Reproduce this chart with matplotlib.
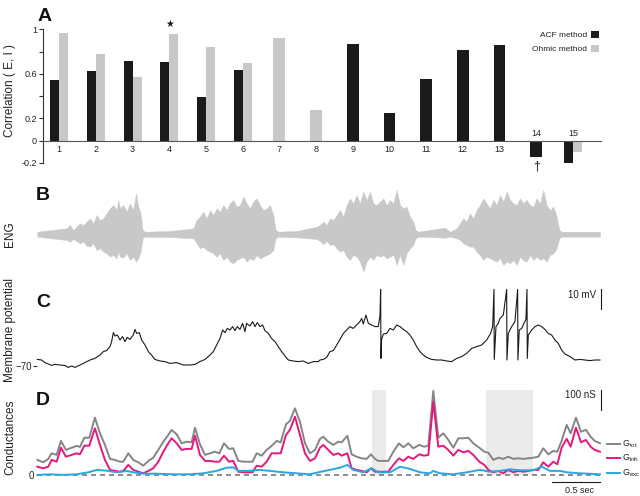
import numpy as np
import matplotlib
matplotlib.use("Agg")
import matplotlib.pyplot as plt
from matplotlib.patches import Patch

plt.rcParams['font.family'] = ['Liberation Sans', 'DejaVu Sans']
plt.rcParams['mathtext.fontset'] = 'custom'
plt.rcParams['mathtext.rm'] = 'Liberation Sans'

# ---------------- panel A: correlation per cell ----------------
categories = [str(i) for i in range(1, 16)]
acf_corr = [0.545, 0.623, 0.716, 0.707, 0.392, 0.635, np.nan, np.nan,
            0.865, 0.249, 0.554, 0.811, 0.859, -0.144, -0.204]
ohmic_corr = [0.964, 0.778, 0.572, 0.958, 0.841, 0.700, 0.919, 0.275,
              np.nan, np.nan, np.nan, np.nan, np.nan, np.nan, -0.105]
star_cat = 4      # marked with a star
dagger_cat = 14   # marked with a dagger

# ---------------- panel B: ENG envelope (a.u.) ----------------
t_eng = [0.000, 0.307, 0.342, 0.377, 0.412, 0.447, 0.482, 0.517, 0.552, 0.587,
         0.622, 0.657, 0.692, 0.727, 0.762, 0.797, 0.832, 0.849, 0.867, 0.901,
         0.936, 0.971, 1.006, 1.034, 1.059, 1.083, 1.104, 1.129, 1.391, 1.635,
         1.670, 1.705, 1.740, 1.775, 1.810, 1.845, 1.880, 1.915, 1.950, 1.985,
         2.020, 2.054, 2.089, 2.124, 2.159, 2.194, 2.229, 2.264, 2.299, 2.334,
         2.369, 2.404, 2.439, 2.474, 2.498, 2.526, 2.718, 2.928, 2.963, 2.998,
         3.033, 3.068, 3.103, 3.138, 3.173, 3.208, 3.243, 3.277, 3.312, 3.347,
         3.382, 3.417, 3.452, 3.487, 3.522, 3.557, 3.592, 3.627, 3.662, 3.697,
         3.732, 3.767, 3.802, 3.837, 3.871, 3.906, 3.941, 3.966, 3.994, 4.273,
         4.326, 4.396, 4.430, 4.465, 4.500, 4.535, 4.570, 4.605, 4.640, 4.675,
         4.710, 4.745, 4.780, 4.815, 4.850, 4.885, 4.920, 4.955, 4.990, 5.025,
         5.059, 5.094, 5.129, 5.164, 5.199, 5.234, 5.269, 5.304, 5.339, 5.374,
         5.409, 5.444, 5.472, 5.496, 5.898]
eng_top = [7, 17, 27, 12, 22, 32, 27, 37, 47, 32,
           57, 42, 47, 62, 77, 87, 72, 102, 77, 87,
           67, 92, 72, 122, 82, 62, 12, 7, 9, 17,
           42, 52, 67, 47, 72, 57, 77, 67, 87, 72,
           92, 102, 82, 87, 112, 92, 77, 97, 107, 87,
           72, 77, 87, 57, 12, 7, 9, 22, 27, 37,
           27, 47, 42, 57, 72, 52, 87, 107, 92, 117,
           92, 127, 102, 127, 92, 87, 97, 107, 87, 102,
           92, 132, 87, 77, 82, 52, 37, 12, 7, 19,
           7, 17, 32, 47, 37, 62, 47, 72, 87, 107,
           92, 77, 102, 87, 117, 97, 127, 102, 92, 87,
           107, 92, 102, 87, 82, 107, 92, 132, 87, 72,
           82, 52, 12, 7, 7]
eng_bot = [-8, -18, -23, -15, -21, -28, -23, -35, -38, -28,
           -48, -43, -53, -58, -68, -63, -73, -53, -68, -71,
           -58, -78, -68, -83, -73, -53, -13, -8, -9, -13,
           -28, -43, -38, -48, -53, -58, -68, -58, -78, -68,
           -83, -88, -78, -73, -68, -83, -73, -78, -63, -73,
           -68, -63, -58, -48, -13, -8, -10, -15, -21, -31,
           -21, -33, -31, -43, -53, -48, -68, -78, -63, -68,
           -83, -113, -83, -68, -78, -63, -68, -63, -73, -68,
           -63, -93, -63, -93, -58, -43, -33, -13, -8, -11,
           -8, -13, -18, -28, -33, -38, -38, -53, -63, -78,
           -68, -73, -78, -83, -73, -93, -83, -88, -78, -93,
           -68, -78, -83, -63, -78, -68, -78, -73, -83, -63,
           -58, -43, -13, -8, -8]

# ---------------- panel C: membrane potential (mV) ----------------
t_vm = [0.000, 0.045, 0.080, 0.115, 0.150, 0.185, 0.238, 0.290, 0.325, 0.360,
        0.395, 0.447, 0.500, 0.552, 0.604, 0.657, 0.692, 0.727, 0.762, 0.779,
        0.797, 0.814, 0.839, 0.867, 0.894, 0.919, 0.943, 0.971, 1.006, 1.024,
        1.041, 1.069, 1.094, 1.129, 1.164, 1.198, 1.233, 1.286, 1.338, 1.391,
        1.461, 1.530, 1.600, 1.653, 1.705, 1.758, 1.810, 1.845, 1.880, 1.915,
        1.943, 1.967, 1.992, 2.020, 2.047, 2.072, 2.096, 2.124, 2.152, 2.177,
        2.194, 2.229, 2.257, 2.282, 2.306, 2.334, 2.362, 2.386, 2.421, 2.456,
        2.491, 2.526, 2.561, 2.596, 2.631, 2.683, 2.736, 2.788, 2.841, 2.893,
        2.946,
        2.963, 2.998, 3.033, 3.068, 3.103, 3.138, 3.173, 3.208, 3.243, 3.277,
        3.312, 3.347, 3.382, 3.400, 3.417, 3.445, 3.470, 3.505, 3.539, 3.574,
        3.592, 3.599, 3.602, 3.609, 3.627, 3.662, 3.697, 3.732, 3.767, 3.802,
        3.837, 3.871, 3.906, 3.941, 3.976, 4.011, 4.046, 4.081, 4.133, 4.186,
        4.238, 4.291, 4.343, 4.396, 4.448, 4.500, 4.553, 4.605, 4.658, 4.710,
        4.752, 4.773, 4.787, 4.790, 4.808, 4.832, 4.850, 4.885, 4.920, 4.923,
        4.937, 4.972, 5.007, 5.035, 5.038, 5.052, 5.077, 5.101, 5.122, 5.133,
        5.136, 5.147, 5.182, 5.217, 5.252, 5.287, 5.321, 5.356, 5.391, 5.426,
        5.461, 5.496, 5.531, 5.584, 5.636, 5.688, 5.741, 5.793, 5.846, 5.898]
vm = [-66.7, -67.0, -68.3, -69.0, -69.7, -69.2, -69.5, -69.7, -70.7, -70.0,
      -70.7, -69.5, -68.3, -67.0, -66.2, -64.5, -62.8, -62.3, -60.3, -57.8,
      -53.3, -55.0, -54.5, -57.0, -55.3, -57.8, -55.7, -56.7, -54.5, -51.7,
      -53.7, -53.3, -57.0, -59.5, -62.8, -64.5, -66.7, -67.5, -67.8, -68.7,
      -68.3, -69.5, -69.5, -69.2, -67.8, -66.7, -64.5, -62.8, -59.5, -56.2,
      -52.0, -53.3, -51.2, -52.0, -50.3, -52.3, -50.3, -51.7, -48.7, -52.8,
      -48.7, -50.0, -47.8, -50.3, -48.3, -50.3, -49.5, -52.3, -53.7, -56.2,
      -57.8, -60.3, -62.8, -65.0, -67.0, -67.5, -67.8, -67.5, -68.7, -67.8,
      -67.8,
      -67.0, -66.7, -65.7, -62.8, -62.3, -59.5, -56.7, -53.7, -52.0, -50.3,
      -51.2, -49.5, -47.8, -46.2, -49.0, -44.5, -48.7, -49.5, -50.3, -50.3,
      -45.0, -31.7, -66.2, -56.7, -54.0, -53.7, -51.2, -52.0, -49.5, -50.3,
      -51.7, -52.8, -54.5, -57.0, -60.3, -62.8, -64.5, -65.7, -66.7, -67.0,
      -67.0, -67.5, -67.8, -66.2, -65.3, -63.7, -61.2, -60.3, -59.5, -57.0,
      -53.7, -50.3, -31.7, -66.7, -50.3, -48.7, -46.2, -44.5, -31.7, -67.0,
      -53.7, -50.3, -47.8, -31.7, -67.0, -52.0, -51.2, -48.7, -46.7, -31.7,
      -66.2, -54.5, -52.0, -50.3, -49.5, -50.3, -51.7, -53.7, -54.5, -57.0,
      -58.7, -62.0, -64.0, -65.3, -67.0, -66.7, -67.0, -67.3, -67.0, -67.0]

# ---------------- panel D: conductances (nS) ----------------
t_cond = [0.000, 0.063, 0.115, 0.150, 0.203, 0.248, 0.300, 0.360, 0.412, 0.447,
          0.493, 0.545, 0.604, 0.657, 0.709, 0.762, 0.814, 0.867, 0.901, 0.954,
          1.006, 1.059, 1.111, 1.164, 1.216, 1.268, 1.321, 1.373, 1.408, 1.461,
          1.513, 1.565, 1.618, 1.653, 1.705, 1.758, 1.810, 1.862, 1.908, 1.957,
          2.009, 2.054, 2.107, 2.159, 2.212, 2.257, 2.299, 2.352, 2.404, 2.456,
          2.509, 2.551, 2.607, 2.648, 2.701, 2.753, 2.806, 2.858, 2.911, 2.963,
          2.998, 3.050, 3.103, 3.155, 3.190, 3.250, 3.295, 3.347, 3.400, 3.452,
          3.498, 3.539, 3.574, 3.627, 3.679, 3.732, 3.791, 3.837, 3.889, 3.941,
          4.004, 4.053, 4.099, 4.151, 4.203, 4.256, 4.308, 4.361, 4.413, 4.465,
          4.518, 4.570, 4.633, 4.686, 4.728, 4.780, 4.832, 4.885, 4.937, 4.990,
          5.042, 5.094, 5.147, 5.199, 5.252, 5.304, 5.356, 5.409, 5.451, 5.496,
          5.549, 5.591, 5.646, 5.699, 5.751, 5.800, 5.842, 5.898]
g_tot = [77, 65, 82, 110, 102, 172, 127, 138, 147, 142,
         188, 188, 288, 210, 152, 82, 77, 68, 68, 110,
         77, 65, 48, 72, 88, 127, 168, 202, 227, 205,
         160, 168, 165, 238, 155, 102, 110, 118, 110, 160,
         132, 135, 72, 68, 68, 68, 110, 98, 127, 147,
         172, 165, 255, 272, 335, 268, 160, 110, 127, 182,
         193, 168, 152, 168, 165, 197, 105, 93, 85, 82,
         105, 82, 72, 72, 72, 118, 160, 140, 160, 135,
         152, 143, 147, 422, 188, 210, 177, 138, 185, 185,
         188, 160, 138, 118, 113, 77, 88, 82, 93, 82,
         85, 82, 85, 88, 93, 135, 105, 122, 118, 172,
         252, 210, 288, 218, 227, 193, 172, 160]
g_inh = [43, 35, 43, 77, 68, 138, 93, 102, 110, 105,
         148, 148, 235, 152, 77, 27, 22, 18, 22, 52,
         27, 18, 10, 22, 35, 68, 118, 160, 185, 160,
         127, 132, 132, 198, 102, 72, 72, 68, 68, 98,
         68, 72, 18, 15, 15, 15, 48, 43, 68, 110,
         110, 110, 202, 227, 293, 202, 110, 72, 85, 138,
         152, 127, 102, 110, 98, 110, 35, 27, 22, 15,
         35, 18, 18, 18, 18, 52, 85, 72, 93, 82,
         105, 98, 102, 368, 143, 148, 127, 98, 127, 115,
         122, 102, 68, 52, 27, 15, 22, 10, 27, 15,
         22, 18, 22, 27, 27, 65, 43, 68, 55, 138,
         182, 143, 238, 165, 177, 143, 127, 118]
t_exc = [0.000, 0.133, 0.273, 0.412, 0.535, 0.622, 0.727, 0.832, 0.936, 1.006,
         1.111, 1.251, 1.426, 1.600, 1.740, 1.880, 1.985, 2.054, 2.107, 2.194,
         2.334, 2.439, 2.579, 2.718, 2.858, 2.963, 3.068, 3.173, 3.250, 3.312,
         3.417, 3.505, 3.574, 3.697, 3.802, 3.906, 4.011, 4.116, 4.151, 4.221,
         4.361, 4.500, 4.640, 4.745, 4.850, 4.955, 5.059, 5.199, 5.287, 5.374,
         5.479, 5.549, 5.688, 5.898]
g_exc = [2, 5, 2, 5, 15, 27, 23, 15, 22, 15,
         8, 8, 5, 5, 10, 22, 38, 40, 22, 22,
         27, 22, 15, 10, 5, 17, 27, 38, 52, 27,
         15, 35, 15, 15, 43, 32, 15, 10, 22, 10,
         5, 15, 27, 18, 22, 30, 25, 25, 43, 22,
         22, 15, 10, 5]
shaded_epochs = [(3.505, 3.652), (4.703, 5.199)]

# ---------------- styling ----------------
BLACK = '#1a1a1a'
LIGHT = '#c8c8c8'
TXT = '#222222'
C_TOT, C_INH, C_EXC = '#858585', '#e5197d', '#28a8e0'

W, H = 640, 496
PX_PER_S, T0_PX = 95.4, 37.3


def px_rect(left, top, right, bottom):
    return [left / W, 1 - bottom / H, (right - left) / W, (bottom - top) / H]


def t_at(px):
    return (px - T0_PX) / PX_PER_S


def bare(ax):
    for s in ax.spines.values():
        s.set_visible(False)
    ax.set_xticks([])
    ax.set_yticks([])


fig = plt.figure(figsize=(W / 100, H / 100), dpi=100)

# ---- A ----
ax_a = fig.add_axes(px_rect(43, 29.3, 602, 163))
x = np.arange(1, len(categories) + 1)
acf = np.array(acf_corr, dtype=float)
ohm = np.array(ohmic_corr, dtype=float)
has_acf, has_ohm = ~np.isnan(acf), ~np.isnan(ohm)
paired = has_acf & has_ohm
bw_pair, bw_single = 0.245, 0.32
shift = np.where(paired, bw_pair / 2, 0)
width = np.where(paired, bw_pair, bw_single)
ax_a.bar((x - shift)[has_acf], acf[has_acf], width=width[has_acf],
         color=BLACK, clip_on=False, zorder=2)
ax_a.bar((x + shift)[has_ohm], ohm[has_ohm], width=width[has_ohm],
         color=LIGHT, clip_on=False, zorder=2)
ax_a.axhline(0, color='#555555', lw=0.8, zorder=3)

lows = np.nanmin(np.vstack([acf, ohm]), axis=0)
highs = np.nanmax(np.vstack([acf, ohm]), axis=0)
for xi, lab, lo in zip(x, categories, lows):
    if lo >= 0:
        ax_a.text(xi, -0.075, lab, ha='center', va='center', fontsize=6.5, color=TXT)
    else:
        ax_a.text(xi, 0.069, lab, ha='center', va='center', fontsize=6.5, color=TXT)
ax_a.text(star_cat, highs[star_cat - 1] + 0.09, '\u2605', ha='center', va='center',
          fontsize=7, family='DejaVu Sans', color=BLACK, clip_on=False)
ax_a.text(dagger_cat, lows[dagger_cat - 1] - 0.083, '\u2020', ha='center', va='center',
          fontsize=9, color=BLACK, clip_on=False)

ax_a.set_xlim(0.558, 15.794)
ax_a.set_ylim(-0.2, 1.0)
for s in ['top', 'right', 'bottom']:
    ax_a.spines[s].set_visible(False)
ax_a.spines['left'].set_linewidth(0.8)
ax_a.spines['left'].set_color('#333333')
ax_a.set_xticks([])
ax_a.set_yticks([1, 0.8, 0.6, 0.4, 0.2, 0, -0.2])
ax_a.set_yticklabels(['1', '', '0.6', '', '0.2', '0', '-0.2'])
ax_a.tick_params(axis='y', length=2.9, width=0.8, labelsize=6.5, pad=1.5,
                 color='#333333', labelcolor=TXT)
ax_a.set_ylabel('Correlation ( E, I )', fontsize=8.5, color=TXT)
ax_a.yaxis.set_label_coords((16 - 43) / 559, (163 - 90.5) / 133.7)
ax_a.legend(handles=[Patch(facecolor=BLACK, label='ACF method'),
                     Patch(facecolor=LIGHT, label='Ohmic method')],
            loc='upper right', bbox_to_anchor=(1.0, 1.014), borderaxespad=0,
            markerfirst=False, frameon=False, fontsize=6, handlelength=0.9,
            handleheight=0.9, handletextpad=0.45, labelspacing=0.7, labelcolor=TXT)

# ---- B ----
ax_b = fig.add_axes(px_rect(30, 185, 610, 285))
ax_b.fill_between(t_eng, eng_bot, eng_top, color=LIGHT, lw=0.3)
ax_b.set_xlim(t_at(30), t_at(610))
ax_b.set_ylim(-153, 147)
bare(ax_b)
ax_b.set_ylabel('ENG', fontsize=8.5, color=TXT)
ax_b.yaxis.set_label_coords((16 - 30) / 580, 0.51)

# ---- C ----
ax_c = fig.add_axes(px_rect(30, 280, 610, 380))
ax_c.plot(t_vm, vm, color=BLACK, lw=0.8)
ax_c.set_xlim(t_at(30), t_at(610))
ax_c.set_ylim(-77, -27)
for s in ax_c.spines.values():
    s.set_visible(False)
ax_c.spines['left'].set_position(('data', t_vm[0]))
ax_c.set_xticks([])
ax_c.set_yticks([-70])
ax_c.set_yticklabels(['\u221270'])
ax_c.tick_params(axis='y', length=2.9, width=0.8, labelsize=7, pad=1,
                 color='#333333', labelcolor=TXT)
vm_top = max(vm)
ax_c.plot([t_at(601), t_at(601)], [vm_top, vm_top - 10], color=BLACK, lw=0.8,
          clip_on=False)
ax_c.text(t_at(596), vm_top - 2.8, '10 mV', ha='right', va='center', fontsize=7,
          color=TXT)
ax_c.set_ylabel('Membrane potential', fontsize=8.5, color=TXT)
ax_c.yaxis.set_label_coords((16 - 30) / 580, 0.5)

# ---- D ----
ax_d = fig.add_axes(px_rect(30, 385, 610, 490))
for a, b in shaded_epochs:
    ax_d.fill_between([a, b], 0, 426, color='#ebebeb', lw=0, zorder=0)
ax_d.plot([t_cond[0], t_cond[-1]], [0, 0], color='#7a7a7a', lw=1.2,
          dashes=(3, 2.4), zorder=1)
ax_d.plot(t_cond, g_tot, color=C_TOT, lw=1.4, zorder=2)
ax_d.plot(t_cond, g_inh, color=C_INH, lw=1.4, zorder=3)
ax_d.plot(t_exc, g_exc, color=C_EXC, lw=1.4, zorder=4)
ax_d.set_xlim(t_at(30), t_at(610))
ax_d.set_ylim(-73.5, 451.5)
for s in ax_d.spines.values():
    s.set_visible(False)
ax_d.spines['left'].set_position(('data', t_cond[0]))
ax_d.set_xticks([])
ax_d.set_yticks([0])
ax_d.set_yticklabels(['0'])
ax_d.tick_params(axis='y', length=0, labelsize=7, pad=2.5, labelcolor=TXT)
ax_d.set_ylabel('Conductances', fontsize=8.5, color=TXT)
ax_d.yaxis.set_label_coords((16 - 30) / 580, 0.505)

# scale bars
ax_d.plot([t_at(601), t_at(601)], [426.5, 326.5], color=BLACK, lw=0.8, clip_on=False)
ax_d.text(t_at(596), 401, '100 nS', ha='right', va='center', fontsize=7, color=TXT)
t_end = t_cond[-1]
ax_d.plot([t_end - 0.5, t_end], [-35, -35], color=BLACK, lw=0.8, clip_on=False)
ax_d.text(t_end - 0.21, -78, '0.5 sec', ha='center', va='center', fontsize=6.5,
          color=TXT, clip_on=False)

# legend
for lab, col, yv in [('tot', C_TOT, 156), ('inh', C_INH, 85), ('exc', C_EXC, 10)]:
    ax_d.plot([t_at(606.7), t_at(620)], [yv, yv], color=col, lw=1.4, clip_on=False)
    ax_d.text(t_at(621.5), yv, r'$\mathregular{G_{%s}}$' % lab, ha='left', va='center',
              fontsize=6.5, color=TXT, clip_on=False)

# panel letters
for lab, px, base in [('A', 37.7, 20.7), ('B', 36, 200), ('C', 36, 306.7), ('D', 36, 405)]:
    fig.text(px / W, 1 - base / H, lab, fontsize=14, fontweight='bold',
             va='baseline', ha='left', color='#111111')

fig.savefig('out.png', dpi=100)
